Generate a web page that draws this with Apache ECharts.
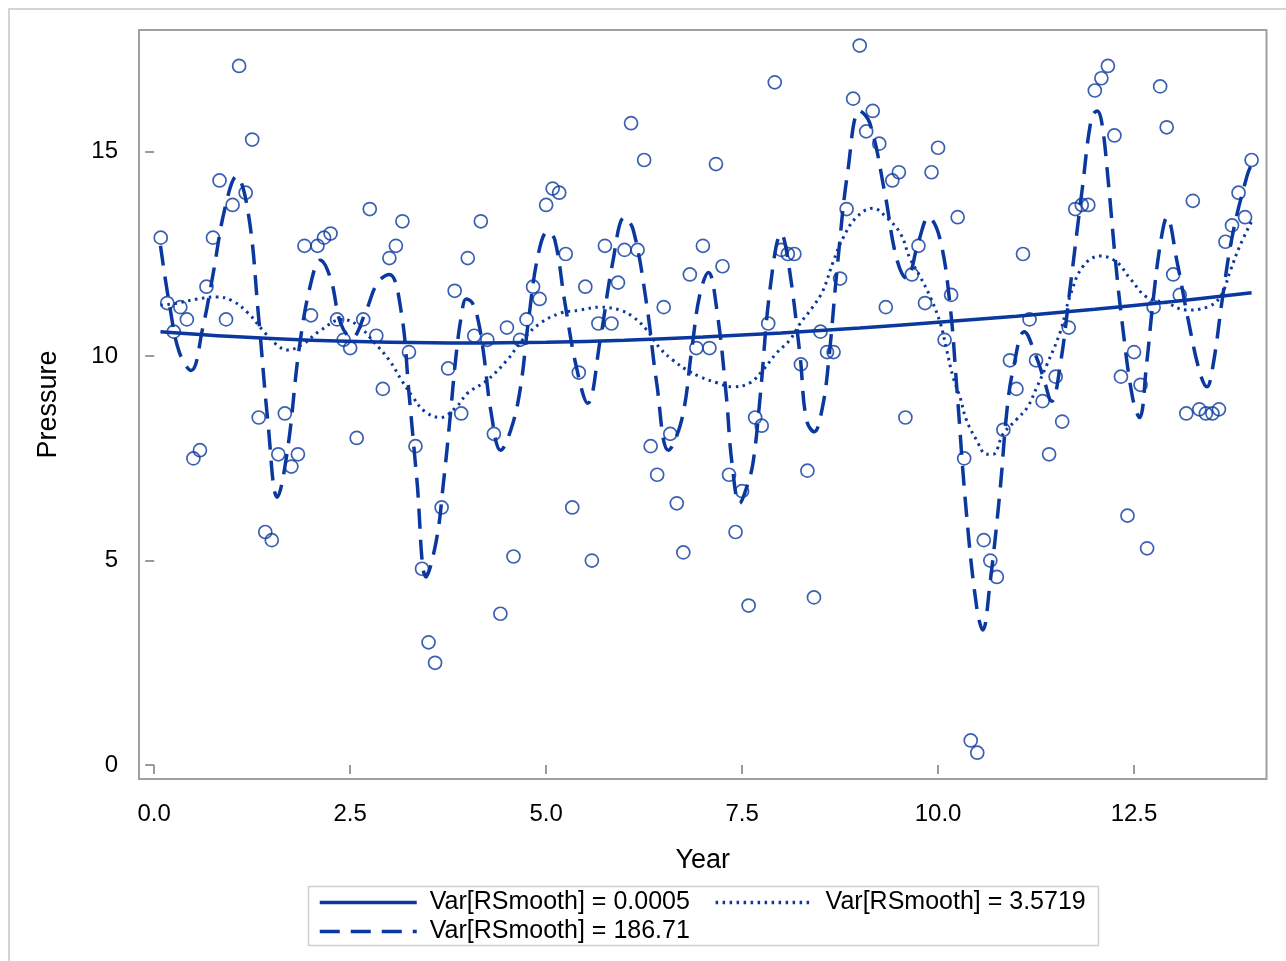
<!DOCTYPE html>
<html>
<head>
<meta charset="utf-8">
<script src="https://cdn.jsdelivr.net/npm/echarts@6/dist/echarts.min.js"></script>
<style>html,body{margin:0;padding:0;background:#fff}#c{width:1286px;height:961px}</style>
</head>
<body>
<div id="c"></div>
<script>
// Monthly observations (one value per month, 14 years)
const pressure = [
  12.9, 11.3, 10.6, 11.2, 10.9, 7.5, 7.7, 11.7, 12.9, 14.3, 10.9, 13.7,
  17.1, 14.0, 15.3, 8.5, 5.7, 5.5, 7.6, 8.6, 7.3, 7.6, 12.7, 11.0,
  12.7, 12.9, 13.0, 10.9, 10.4, 10.2, 8.0, 10.9, 13.6, 10.5, 9.2, 12.4,
  12.7, 13.3, 10.1, 7.8, 4.8, 3.0, 2.5, 6.3, 9.7, 11.6, 8.6, 12.4,
  10.5, 13.3, 10.4, 8.1, 3.7, 10.7, 5.1, 10.4, 10.9, 11.7, 11.4, 13.7,
  14.1, 14.0, 12.5, 6.3, 9.6, 11.7, 5.0, 10.8, 12.7, 10.8, 11.8, 12.6,
  15.7, 12.6, 14.8, 7.8, 7.1, 11.2, 8.1, 6.4, 5.2, 12.0, 10.2, 12.7,
  10.2, 14.7, 12.2, 7.1, 5.7, 6.7, 3.9, 8.5, 8.3, 10.8, 16.7, 12.6,
  12.5, 12.5, 9.8, 7.2, 4.1, 10.6, 10.1, 10.1, 11.9, 13.6, 16.3, 17.6,
  15.5, 16.0, 15.2, 11.2, 14.3, 14.5, 8.5, 12.0, 12.7, 11.3, 14.5, 15.1,
  10.4, 11.5, 13.4, 7.5, 0.6, 0.3, 5.5, 5.0, 4.6, 8.2, 9.9, 9.2,
  12.5, 10.9, 9.9, 8.9, 7.6, 9.5, 8.4, 10.7, 13.6, 13.7, 13.7, 16.5,
  16.8, 17.1, 15.4, 9.5, 6.1, 10.1, 9.3, 5.3, 11.2, 16.6, 15.6, 12.0,
  11.5, 8.6, 13.8, 8.7, 8.6, 8.6, 8.7, 12.8, 13.2, 14.0, 13.4, 14.8
];
const monthsPerYear = 12;

// Smooth fit, Var[RSmooth] = 0.0005
const fitStiffX = [0.08, 1, 2, 3, 4, 5, 6, 7, 8, 9, 10, 11, 12, 13, 14];
const fitStiffY = [10.6, 10.48, 10.39, 10.34, 10.32, 10.34, 10.39, 10.47, 10.57, 10.69, 10.83, 10.98, 11.15, 11.34, 11.55];

// Smooth fit, Var[RSmooth] = 3.5719
const fitMidX = [0.08, 0.3, 0.55, 0.8, 1.0, 1.2, 1.4, 1.55, 1.7, 1.9, 2.1, 2.4, 2.6, 2.8, 3.0, 3.16, 3.3, 3.45, 3.65, 3.85,
  4.0, 4.24, 4.5, 4.7, 4.92, 5.18, 5.43, 5.69, 5.94, 6.11, 6.28, 6.45, 6.62, 6.79, 6.96, 7.18, 7.38, 7.6, 7.77, 7.94,
  8.11, 8.24, 8.4, 8.53, 8.66, 8.79, 8.96, 9.17, 9.34, 9.52, 9.64, 9.77, 9.9, 10.03, 10.11, 10.19, 10.28, 10.36, 10.49, 10.62,
  10.7, 10.83, 11.0, 11.14, 11.25, 11.39, 11.56, 11.68, 11.85, 12.07, 12.28, 12.45, 12.66, 12.92, 13.17, 13.43, 13.6, 13.73, 13.85, 14.0];
const fitMidY = [11.25, 11.3, 11.4, 11.45, 11.35, 11.05, 10.6, 10.3, 10.15, 10.3, 10.6, 10.9, 10.75, 10.35, 9.9, 9.4, 9.0, 8.65, 8.5, 8.75,
  9.1, 9.4, 9.9, 10.4, 10.8, 11.05, 11.13, 11.2, 11.13, 10.96, 10.65, 10.2, 9.9, 9.67, 9.5, 9.35, 9.25, 9.35, 9.67, 10.08,
  10.4, 10.8, 11.2, 11.6, 12.3, 12.9, 13.4, 13.62, 13.4, 13.0, 12.4, 11.95, 11.45, 10.8, 10.15, 9.5, 9.0, 8.45, 7.95, 7.6,
  7.6, 8.1, 8.45, 8.75, 9.2, 9.8, 10.6, 11.45, 12.2, 12.45, 12.3, 11.9, 11.45, 11.3, 11.13, 11.2, 11.45, 12.1, 12.7, 13.3];

// Smooth fit, Var[RSmooth] = 186.71
const fitRoughX = [0.08, 0.2, 0.32, 0.47, 0.62, 0.75, 0.9, 1.05, 1.2, 1.33, 1.45, 1.57, 1.7, 1.85, 2.0, 2.12, 2.25, 2.38, 2.52, 2.7,
  2.85, 3.0, 3.15, 3.25, 3.35, 3.47, 3.6, 3.69, 3.77, 3.85, 3.92, 3.98, 4.06, 4.13, 4.2, 4.3, 4.42, 4.55, 4.67, 4.77,
  4.9, 5.02, 5.11, 5.24, 5.39, 5.53, 5.69, 5.85, 6.0, 6.11, 6.28, 6.41, 6.56, 6.73, 6.86, 6.96, 7.07, 7.18, 7.3, 7.37,
  7.47, 7.56, 7.64, 7.73, 7.86, 8.0, 8.09, 8.24, 8.32, 8.42, 8.52, 8.6, 8.72, 8.85, 9.0, 9.13, 9.32, 9.47, 9.6, 9.75,
  9.88, 10.02, 10.15, 10.24, 10.36, 10.49, 10.57, 10.66, 10.79, 10.88, 10.96, 11.1, 11.25, 11.34, 11.45, 11.56, 11.68, 11.84, 11.96, 12.03,
  12.09, 12.17, 12.26, 12.35, 12.48, 12.57, 12.66, 12.74, 12.84, 12.92, 13.05, 13.19, 13.34, 13.43, 13.51, 13.63, 13.76, 13.94, 14.0];
const fitRoughY = [12.7, 11.2, 10.1, 9.65, 10.7, 12.0, 13.6, 14.4, 13.5, 11.0, 8.4, 6.55, 7.7, 10.2, 11.8, 12.35, 11.9, 10.8, 10.45, 11.1,
  11.8, 12.0, 11.1, 9.1, 7.0, 4.6, 5.5, 6.9, 8.4, 10.0, 11.0, 11.4, 11.3, 10.9, 10.1, 8.6, 7.7, 8.2, 9.2, 10.8,
  12.5, 13.05, 12.85, 11.3, 9.7, 8.85, 10.4, 12.3, 13.4, 13.1, 11.3, 9.35, 7.7, 8.45, 10.2, 11.5, 12.05, 11.1, 9.0, 7.4,
  6.4, 6.8, 7.4, 9.0, 11.7, 13.0, 12.3, 10.0, 8.45, 8.15, 8.7, 9.8, 12.3, 14.55, 16.0, 15.7, 14.0, 12.4, 11.9, 12.8,
  13.4, 12.9, 11.3, 9.2, 6.2, 3.9, 3.3, 4.4, 6.7, 8.7, 9.7, 10.6, 10.0, 9.5, 8.9, 9.8, 11.6, 14.1, 15.85, 16.0,
  15.7, 14.3, 12.4, 10.8, 9.0, 8.5, 9.8, 11.3, 12.8, 13.4, 12.3, 10.9, 9.6, 9.25, 9.8, 11.45, 13.0, 14.4, 14.7];

const seriesNames = ['Var[RSmooth] = 0.0005', 'Var[RSmooth] = 3.5719', 'Var[RSmooth] = 186.71'];
const xTickValues = [0, 2.5, 5, 7.5, 10, 12.5];
const yTickValues = [0, 5, 10, 15];
const xTitle = 'Year';
const yTitle = 'Pressure';

const BLUE = '#0a389e';
const FONT = "'Liberation Sans', Arial, Helvetica, sans-serif";
const FRAME = '#9da1a6';

const pairs = (xs, ys) => xs.map((x, i) => [x, ys[i]]);
const scatterData = pressure.map((v, i) => [(i + 1) / monthsPerYear, v]);

const chart = echarts.init(document.getElementById('c'), null, { renderer: 'canvas' });
chart.setOption({
  animation: false,
  backgroundColor: '#ffffff',
  graphic: [
    { type: 'rect', silent: true, z: -10,
      shape: { x: 9, y: 9, width: 1300, height: 1000 },
      style: { fill: 'none', stroke: '#d4d4d4', lineWidth: 2 } },
    { type: 'rect', silent: true, z: -10,
      shape: { x: 308.5, y: 886.5, width: 790, height: 59 },
      style: { fill: 'none', stroke: '#cfcfcf', lineWidth: 1.5 } }
  ],
  grid: {
    left: 139, top: 30, right: 19.5, bottom: 182,
    show: true, borderColor: FRAME, borderWidth: 2, backgroundColor: 'transparent'
  },
  xAxis: {
    type: 'value', min: -0.194, max: 14.19,
    name: xTitle, nameLocation: 'middle', nameGap: 65,
    nameTextStyle: { fontFamily: FONT, fontSize: 27, color: '#000' },
    offset: 3,
    axisLine: { show: false },
    axisTick: { show: true, length: 9, customValues: xTickValues, lineStyle: { color: '#8c9096', width: 1.8 } },
    axisLabel: { customValues: xTickValues, margin: 20, fontFamily: FONT, fontSize: 24, color: '#000',
      formatter: v => Number(v).toFixed(1) },
    splitLine: { show: false }
  },
  yAxis: {
    type: 'value', min: -0.343, max: 17.98,
    name: yTitle, nameLocation: 'middle', nameGap: 74, nameRotate: 90,
    nameTextStyle: { fontFamily: FONT, fontSize: 27, color: '#000' },
    offset: 3,
    axisLine: { show: false },
    axisTick: { show: true, length: 9, customValues: yTickValues, lineStyle: { color: '#8c9096', width: 1.8 } },
    axisLabel: { customValues: yTickValues, margin: 18, fontFamily: FONT, fontSize: 24, color: '#000',
      formatter: v => String(v) },
    splitLine: { show: false }
  },
  legend: {
    data: seriesNames,
    left: 318, top: 889, width: 800, padding: 0, itemGap: 2,
    itemWidth: 97, itemHeight: 14, selectedMode: false,
    itemStyle: { opacity: 0 },
    lineStyle: { width: 3.5 },
    textStyle: { fontFamily: FONT, fontSize: 25, color: '#000', lineHeight: 27, padding: [0, 22, 0, 8] }
  },
  series: [
    {
      type: 'scatter', name: 'Pressure', data: scatterData,
      symbol: 'circle', symbolSize: 13,
      itemStyle: { color: 'rgba(255,255,255,0)', borderColor: BLUE, borderWidth: 1.7 },
      emphasis: { disabled: true }, z: 2
    },
    {
      type: 'line', name: seriesNames[0], data: pairs(fitStiffX, fitStiffY),
      smooth: 0.4, symbol: 'none', showSymbol: false,
      lineStyle: { color: BLUE, width: 3.5, type: 'solid' }, itemStyle: { color: BLUE }, z: 3
    },
    {
      type: 'line', name: seriesNames[1], data: pairs(fitMidX, fitMidY),
      smooth: 0.4, symbol: 'none', showSymbol: false,
      lineStyle: { color: BLUE, width: 3, type: [2.5, 4.5] }, itemStyle: { color: BLUE }, z: 3
    },
    {
      type: 'line', name: seriesNames[2], data: pairs(fitRoughX, fitRoughY),
      smooth: 0.4, symbol: 'none', showSymbol: false,
      lineStyle: { color: BLUE, width: 3.5, type: [20, 11] }, itemStyle: { color: BLUE }, z: 3
    }
  ]
});
</script>
</body>
</html>
